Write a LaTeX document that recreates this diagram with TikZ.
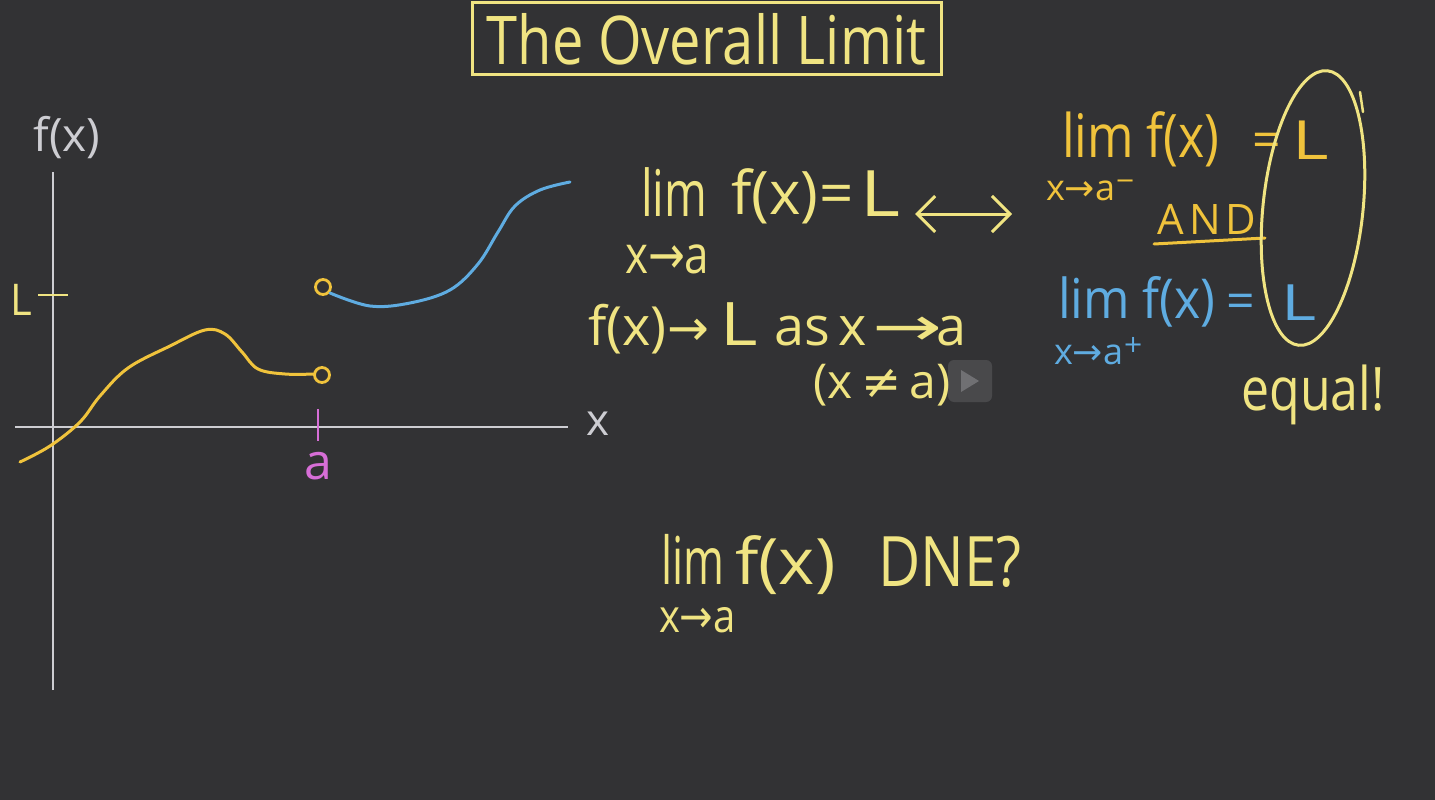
\documentclass[tikz,border=0pt]{standalone}
\usepackage{graphicx}
\usepackage{fontspec}
\setmainfont{Open Sans}
\newfontfamily\symf{DejaVu Sans}
\usetikzlibrary{shapes.geometric,arrows.meta}
\definecolor{bg}{RGB}{50,50,52}
\definecolor{pale}{RGB}{240,228,130}
\definecolor{gold}{RGB}{240,195,60}
\definecolor{sky}{RGB}{95,172,225}
\definecolor{mag}{RGB}{215,110,215}
\definecolor{axisgray}{RGB}{205,205,210}
\newcommand\hwsize[1]{\fontsize{#1}{#1}\selectfont}
\newcommand\st[3]{\scalebox{#1}[#2]{#3}}
\newcommand\arr{{\symf →}}
\begin{document}
\begin{tikzpicture}[x=1pt,y=-1pt,
  txt/.style={inner sep=0pt, outer sep=0pt},
  bw/.style={txt, anchor=base west},
  axisline/.style={axisgray, line width=2.6pt},
  curve/.style={line width=3pt, line cap=round, line join=round},
  hole/.style={circle, draw=gold, line width=2.8pt, minimum size=15pt, inner sep=0pt}]
\fill[bg] (0,0) rectangle (1435,800);
\useasboundingbox (0,0) rectangle (1435,800);

% title
\node[draw=pale, line width=3pt, minimum width=469pt, minimum height=72pt, inner sep=0pt, text=pale, font=\hwsize{56}] (title) at (706.5,39) {\st{1}{1.2}{The Overall Limit}};

% axes
\coordinate (yb) at (53,690); \coordinate (yt) at (53,172);
\coordinate (xl) at (15,427); \coordinate (xr) at (568,427);
\draw[axisline] (yb) -- (yt);
\draw[axisline] (xl) -- (xr);
\node[txt, text=axisgray, font=\hwsize{46}] (fx) at (67,138) {f(x)};
\node[txt, text=axisgray, font=\hwsize{44}] (xlab) at (598,424) {x};
\node[txt, text=pale, font=\hwsize{38}] (Llab) at (21,300) {\st{1.1}{1.15}{L}};
\coordinate (Lt1) at (38,295); \coordinate (Lt2) at (68,295);
\draw[pale, line width=2.8pt] (Lt1) -- (Lt2);
\coordinate (at1) at (318,409); \coordinate (at2) at (318,441);
\draw[mag, line width=2.8pt] (at1) -- (at2);
\node[txt, text=mag, font=\hwsize{50}] (alab) at (318,466) {a};

% left piece (gold)
\node[hole] (h1) at (322,375) {};
\draw[curve, gold] plot[smooth, tension=0.6] coordinates {(20,462) (50,446) (80,422) (100,396) (128,368) (170,346) (205,330) (225,334) (242,352) (258,369) (285,374) (314,374)};
% right piece (blue)
\node[hole] (h2) at (323,287) {};
\draw[curve, sky] plot[smooth, tension=0.6] coordinates {(330,293) (370,306) (410,303) (450,290) (478,264) (498,232) (515,206) (540,190) (570,182)};

% main formula
\node[bw, text=pale, font=\hwsize{46}] (lim1) at (641,216) {\st{1}{1.4}{lim}};
\node[bw, text=pale, font=\hwsize{60}] (f1) at (731,214) {f(x)};
\node[bw, text=pale, font=\hwsize{60}] (eq1) at (819,214) {=};
\node[bw, text=pale, font=\hwsize{64}] (L1) at (860,216) {\st{1.2}{1}{L}};
\node[bw, text=pale, font=\hwsize{44}] (sub1) at (625,273) {\st{1}{1.2}{x\arr a}};
\coordinate (iffL) at (915,214); \coordinate (iffR) at (1012,214);
\draw[pale, line width=3pt, {Straight Barb[length=18pt,width=36pt]}-{Straight Barb[length=18pt,width=36pt]}] (iffL) -- (iffR);

% second line
\node[bw, text=pale, font=\hwsize{54}] (f2a) at (588,345) {f(x)};
\node[bw, text=pale, font=\hwsize{50}] (f2b) at (667,345) {\arr};
\node[bw, text=pale, font=\hwsize{60}] (f2c) at (720,345) {\st{1.2}{1}{L}};
\node[bw, text=pale, font=\hwsize{54}] (f2d) at (774,345) {as};
\node[bw, text=pale, font=\hwsize{54}] (f2e) at (838,345) {x};
\node[bw, text=pale, font=\hwsize{54}] (f2f) at (872,345) {\st{1.55}{1}{\arr}};
\node[bw, text=pale, font=\hwsize{54}] (f2g) at (936,345) {a};
\node[txt, text=pale, font=\hwsize{48}] (cond) at (882,385) {(x\,{\symf ≠}\,a)};

% right block
\node[bw, text=gold, font=\hwsize{50}] (lim2) at (1062,157) {\st{1}{1.2}{lim f(x)}};
\node[bw, text=gold, font=\hwsize{50}] (eq2) at (1252,157) {=};
\node[bw, text=gold, font=\hwsize{36}] (sub2) at (1046,200) {x\arr a\raisebox{12pt}{\hwsize{24}\symf −}};
\node[txt, text=gold, font=\hwsize{42}] (and) at (1207,219) {A\hspace{5pt}N\hspace{5pt}D};
\coordinate (u1) at (1154,244); \coordinate (u2) at (1265,238);
\draw[gold, line width=3pt, line cap=round] (u1) -- (u2);
\node[bw, text=gold, font=\hwsize{54}] (L2) at (1292,159) {\st{1.3}{1}{L}};
\node[bw, text=sky, font=\hwsize{50}] (lim3) at (1058,318) {\st{1}{1.1}{lim f(x)}};
\node[bw, text=sky, font=\hwsize{50}] (eq3) at (1226,318) {=};
\node[bw, text=sky, font=\hwsize{50}] (sub3) at (1054,364) {\hwsize{36}x\arr a\raisebox{12pt}{\hwsize{24}\symf +}};
\node[bw, text=sky, font=\hwsize{50}] (L3) at (1281,320) {\st{1.35}{1}{L}};
\node[ellipse, draw=pale, line width=3pt, minimum width=100pt, minimum height=276pt, rotate=-6] (ring) at (1313,208) {};
\coordinate (k1) at (1360,92); \coordinate (k2) at (1363,112);
\draw[pale, line width=2.5pt, line cap=round] (k1) -- (k2);
\node[txt, text=pale, font=\hwsize{50}] (eq) at (1313,395) {\st{1}{1.2}{equal!}};

% DNE
\node[bw, text=pale, font=\hwsize{44}] (lim4) at (661,584) {\st{1}{1.5}{lim}};
\node[bw, text=pale, font=\hwsize{64}] (f4) at (735,584) {\st{1.08}{1}{f(x)}};
\node[bw, text=pale, font=\hwsize{58}] (dne) at (878,586) {\st{1}{1.2}{DNE?}};
\node[bw, text=pale, font=\hwsize{40}] (sub4) at (659,632) {\st{1}{1.15}{x\arr a}};

% player overlay
\node[fill=axisgray, fill opacity=0.15, rounded corners=6pt, minimum width=44pt, minimum height=42pt, inner sep=0pt] (play) at (970,381) {};
\fill[axisgray, opacity=0.3] (961,370) -- (961,392) -- (979,381) -- cycle;
\end{tikzpicture}
\end{document}
